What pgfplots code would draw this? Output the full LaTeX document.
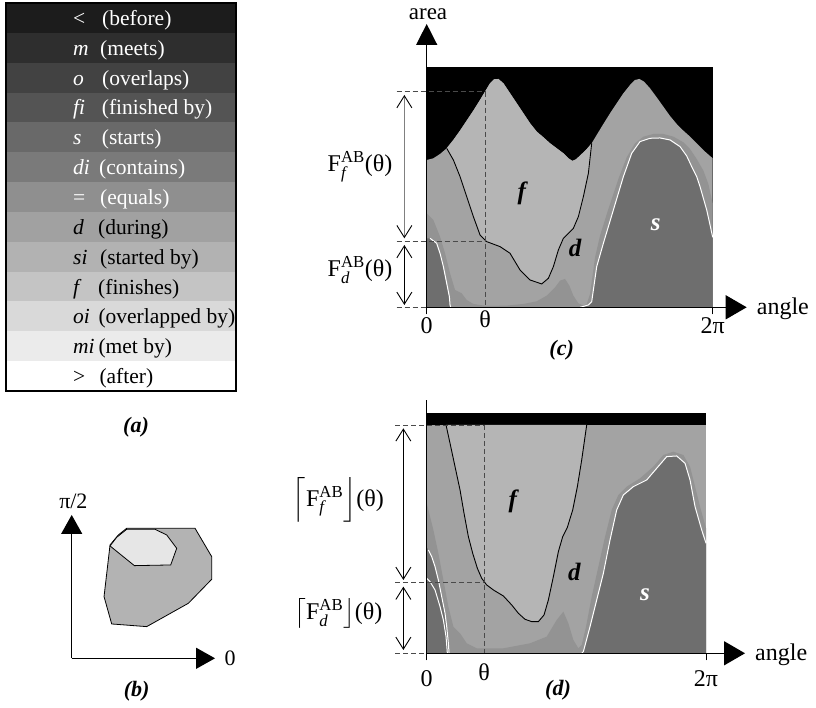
\documentclass[border=0pt]{standalone}
\usepackage{pgfplots}
\pgfplotsset{compat=1.18}
\usepackage{amsmath}
\usepackage{fontspec}
\setmainfont{Liberation Serif}
\usetikzlibrary{arrows.meta}
\definecolor{cS}{HTML}{6E6E6E}
\definecolor{cBand}{HTML}{939393}
\definecolor{cD}{HTML}{A3A3A3}
\definecolor{cF}{HTML}{B5B5B5}
\definecolor{cPolyA}{HTML}{B3B3B3}
\definecolor{cPolyB}{HTML}{E6E6E6}
\definecolor{cDash}{HTML}{4A4A4A}
\newcommand{\fs}[1]{\fontsize{#1}{#1}\selectfont}
% legend row: #1 top y, #2 bottom y, #3 fill, #4 text colour, #5 symbol, #6 desc x, #7 desc
\newcommand{\lrow}[7]{%
  \addplot[fill=#3, draw=none] coordinates {(0,#2)(230,#2)(230,#1)(0,#1)} --cycle;
  \node[anchor=base west, inner sep=0pt, text=#4, font=\fs{21.5}] at (axis cs:67,{(#1+#2)/2-7.5}) {#5};
  \node[anchor=base west, inner sep=0pt, text=#4, font=\fs{21.5}] at (axis cs:#6,{(#1+#2)/2-7.5}) {#7};
}
\tikzset{
  dsh/.style={cDash, line width=0.8pt, dash pattern=on 5pt off 3pt},
  vv/.style={line width=0.9pt, {Straight Barb[length=12pt,width=15pt,color=black]}-{Straight Barb[length=12pt,width=15pt,color=black]}},
  rl/.style={font=\fs{25}\bfseries\itshape},
}
\begin{document}
\begin{tikzpicture}
\useasboundingbox (0,0) rectangle (816pt,708pt);

% ---------------- (a) legend ----------------
\begin{axis}[at={(6pt,317pt)}, anchor=south west, x=1pt, y=1pt,
  xmin=0, xmax=230, ymin=0, ymax=388, xtick=\empty, ytick=\empty,
  axis line style={line width=1.2pt}, axis on top, clip=false]
\lrow{388}{358.15}{black!89}{white}{<}{96}{(before)}
\lrow{358.15}{328.31}{black!82}{white}{\textit{m}}{94}{(meets)}
\lrow{328.31}{298.46}{black!74}{white}{\textit{o}}{96}{(overlaps)}
\lrow{298.46}{268.62}{black!67}{white}{\textit{fi}}{95.7}{(finished by)}
\lrow{268.62}{238.77}{black!59}{white}{\textit{s}}{95.7}{(starts)}
\lrow{238.77}{208.92}{black!52}{white}{\textit{di}}{93}{(contains)}
\lrow{208.92}{179.08}{black!44}{white}{=}{94}{(equals)}
\lrow{179.08}{149.23}{black!37}{black}{\textit{d}}{92}{(during)}
\lrow{149.23}{119.38}{black!30}{black}{\textit{si}}{94}{(started by)}
\lrow{119.38}{89.54}{black!23}{black}{\textit{f}}{92}{(finishes)}
\lrow{89.54}{59.69}{black!15}{black}{\textit{oi}}{92.3}{(overlapped by)}
\lrow{59.69}{29.85}{black!8}{black}{\textit{mi}}{92.3}{(met by)}
\lrow{29.85}{0}{white}{black}{>}{93.3}{(after)}
\node[font=\fs{22}\bfseries\itshape] at (axis cs:130,-36) {(a)};
\end{axis}

% ---------------- (b) ----------------
\begin{axis}[at={(71.7pt,49.7pt)}, anchor=south west, x=0.33333pt, y=0.33333pt,
  xmin=0, xmax=430, ymin=0, ymax=430,
  axis x line*=bottom, axis y line*=left,
  axis line style={line width=1.2pt},
  x axis line style={-{Triangle[length=19pt,width=21pt]}},
  y axis line style={-{Triangle[length=19pt,width=21pt]}},
  xtick=\empty, ytick=\empty, clip=false, axis on top]
\addplot[fill=cPolyA, draw=black, line width=0.8pt] coordinates {(165,390)(370,390)(420,305)(420,237)(350,165)(225,95)(120,103)(97,185)(115,340)(140,370)} --cycle;
\addplot[fill=cPolyB, draw=black, line width=0.8pt] coordinates {(165,387)(250,387)(285,370)(315,330)(297,280)(188,278)(115,337)(135,363)} --cycle;
\node[font=\fs{22}] at (axis cs:5,470) {π/2};
\node[font=\fs{22}] at (axis cs:475,0) {0};
\node[font=\fs{22}\bfseries\itshape] at (axis cs:195,-100) {(b)};
\end{axis}

% ---------------- (c) ----------------
\begin{axis}[at={(426.7pt,400.7pt)}, anchor=south west, x=0.33333pt, y=0.33333pt,
  xmin=0, xmax=960, ymin=0, ymax=850,
  axis x line*=bottom, axis y line*=left,
  axis line style={line width=1.3pt},
  x axis line style={-{Triangle[length=21pt,width=24pt]}},
  y axis line style={-{Triangle[length=21pt,width=21pt]}},
  xtick={0,858}, xticklabels={0,2π},
  extra x ticks={175}, extra x tick labels={θ},
  extra x tick style={major tick length=0pt},
  ytick=\empty, tick align=outside, major tick length=7pt,
  tick style={line width=1pt, black},
  tick label style={font=\fs{24}},
  clip=false, axis on top]
\addplot[fill=black, draw=none] coordinates {(0,0)(0,722)(858,722)(858,0)} --cycle;
\addplot[fill=cD, draw=none] coordinates {(0,0)(0,442)(20,447)(40,460)(60,477)(80,502)(100,530)(120,560)(140,590)(160,622)(175,647)(190,672)(202,684)(215,685)(230,672)(250,642)(270,612)(290,582)(310,552)(330,527)(350,510)(370,492)(390,477)(410,462)(425,447)(437,439)(448,444)(462,457)(478,472)(495,492)(510,517)(530,550)(550,582)(570,612)(590,642)(610,667)(625,682)(638,685)(652,677)(670,657)(690,630)(710,602)(730,574)(750,550)(770,530)(790,512)(810,492)(835,467)(858,447)(858,0)} --cycle;
\addplot[fill=cF, draw=none] coordinates {(60,477)(80,442)(100,392)(120,332)(140,272)(160,217)(180,197)(220,182)(250,162)(280,112)(310,82)(345,70)(365,87)(380,122)(395,172)(410,207)(440,237)(455,272)(470,332)(485,402)(495,492)(478,472)(462,457)(448,444)(437,439)(425,447)(410,462)(390,477)(370,492)(350,510)(330,527)(310,552)(290,582)(270,612)(250,642)(230,672)(215,685)(202,684)(190,672)(175,647)(160,622)(140,590)(120,560)(100,530)(80,502)} --cycle;
\addplot[fill=cBand, draw=none] coordinates {(0,0)(0,282)(20,262)(40,212)(55,162)(70,102)(85,52)(105,42)(120,22)(140,10)(180,4)(240,5)(290,10)(330,18)(360,35)(385,60)(400,80)(415,85)(428,65)(440,35)(455,12)(470,5)(480,10)(490,40)(497,90)(505,150)(520,215)(545,295)(575,385)(600,450)(625,492)(650,512)(680,520)(710,520)(740,512)(770,495)(790,475)(810,445)(830,410)(845,370)(858,310)(858,0)} --cycle;
\addplot[fill=cS, draw=none] coordinates {(0,0)(0,207)(10,207)(30,192)(40,162)(50,122)(60,72)(68,32)(70,7)(72,0)} --cycle;
\addplot[fill=cS, draw=none] coordinates {(460,0)(475,4)(485,7)(495,17)(500,52)(510,122)(530,192)(560,292)(590,392)(615,462)(640,497)(670,507)(700,508)(730,502)(760,482)(780,454)(795,422)(810,392)(820,362)(830,327)(840,292)(850,247)(858,210)(858,0)} --cycle;
\addplot[white, line width=1pt] coordinates {(10,207)(30,192)(40,162)(50,122)(60,72)(68,32)(70,7)(72,0)};
\addplot[white, line width=1pt] coordinates {(460,0)(475,4)(485,7)(495,17)(500,52)(510,122)(530,192)(560,292)(590,392)(615,462)(640,497)(670,507)(700,508)(730,502)(760,482)(780,454)(795,422)(810,392)(820,362)(830,327)(840,292)(850,247)(858,210)};
\addplot[black, line width=0.9pt] coordinates {(60,477)(80,442)(100,392)(120,332)(140,272)(160,217)(180,197)(220,182)(250,162)(280,112)(310,82)(345,70)(365,87)(380,122)(395,172)(410,207)(440,237)(455,272)(470,332)(485,402)(495,492)};
\draw[dsh] (axis cs:-90,647) -- (axis cs:175,647);
\draw[dsh] (axis cs:175,647) -- (axis cs:175,0);
\draw[dsh] (axis cs:-90,197) -- (axis cs:175,197);
\draw[dsh] (axis cs:-90,0) -- (axis cs:0,0);
\draw[vv, draw=gray] (axis cs:-67,637) -- (axis cs:-67,207);
\draw[vv] (axis cs:-67,187) -- (axis cs:-67,7);
\node[font=\fs{24}] at (axis cs:-200,421) {F$^{\text{AB}}_{\text{\itshape f}}$(θ)};
\node[font=\fs{24}] at (axis cs:-200,112) {F$^{\text{AB}}_{\text{\itshape d}}$(θ)};
\node[rl] at (axis cs:285,342) {f};
\node[rl] at (axis cs:445,177) {d};
\node[rl, text=white] at (axis cs:687,247) {s};
\node[font=\fs{24}, anchor=base west, inner sep=0pt] at (axis cs:990,-23) {angle};
\node[font=\fs{23}, anchor=base, inner sep=0pt] at (axis cs:4,862) {area};
\node[font=\fs{22}\bfseries\itshape] at (axis cs:405,-128) {(c)};
\end{axis}

% ---------------- (d) ----------------
\begin{axis}[at={(426.7pt,54.7pt)}, anchor=south west, x=0.33333pt, y=0.33333pt,
  xmin=0, xmax=955, ymin=0, ymax=760,
  axis x line*=bottom, axis y line*=left,
  axis line style={line width=1.3pt},
  x axis line style={-{Triangle[length=21pt,width=24pt]}},
  xtick={0,838}, xticklabels={0,2π},
  extra x ticks={172}, extra x tick labels={θ},
  extra x tick style={major tick length=0pt},
  ytick=\empty, tick align=outside, major tick length=7pt,
  tick style={line width=1pt, black},
  tick label style={font=\fs{24}},
  xticklabel style={yshift=-7pt},
  clip=false, axis on top]
\addplot[fill=cD, draw=none] coordinates {(0,0)(0,685)(838,685)(838,0)} --cycle;
\addplot[fill=black, draw=none] coordinates {(0,685)(0,720)(838,720)(838,685)} --cycle;
\addplot[fill=cF, draw=none] coordinates {(58,685)(70,630)(85,560)(100,490)(112,420)(125,350)(138,300)(152,255)(165,225)(180,205)(200,190)(230,172)(255,145)(275,120)(295,102)(315,95)(335,95)(352,115)(365,160)(380,230)(395,305)(408,350)(422,378)(438,430)(452,500)(465,580)(475,650)(480,685)} --cycle;
\addplot[fill=cBand, draw=none] coordinates {(0,0)(0,450)(20,370)(35,300)(50,220)(65,140)(80,80)(100,60)(120,30)(150,15)(230,15)(310,30)(360,50)(390,100)(410,125)(425,90)(440,40)(455,15)(465,25)(478,80)(495,170)(515,260)(535,350)(555,430)(575,475)(600,500)(640,525)(680,560)(710,595)(740,605)(770,595)(790,560)(805,500)(820,440)(838,375)(838,0)} --cycle;
\addplot[fill=cS, draw=none] coordinates {(0,0)(0,318)(5,310)(15,290)(25,260)(35,220)(45,170)(55,120)(60,80)(65,30)(67,0)} --cycle;
\addplot[fill=cS, draw=none] coordinates {(465,0)(470,5)(490,80)(510,160)(530,240)(550,340)(570,430)(590,475)(620,500)(660,520)(690,555)(720,590)(750,592)(775,570)(790,520)(805,440)(825,370)(838,330)(838,0)} --cycle;
\addplot[white, line width=1pt] coordinates {(5,310)(15,290)(25,260)(35,220)(45,170)(55,120)(60,80)(65,30)(67,0)};
\addplot[white, line width=1pt] coordinates {(0,225)(10,215)(25,190)(40,140)(50,100)(58,50)(62,0)};
\addplot[white, line width=1pt] coordinates {(465,0)(470,5)(490,80)(510,160)(530,240)(550,340)(570,430)(590,475)(620,500)(660,520)(690,555)(720,590)(750,592)(775,570)(790,520)(805,440)(825,370)(838,330)};
\addplot[black, line width=0.9pt] coordinates {(58,685)(70,630)(85,560)(100,490)(112,420)(125,350)(138,300)(152,255)(165,225)(180,205)(200,190)(230,172)(255,145)(275,120)(295,102)(315,95)(335,95)(352,115)(365,160)(380,230)(395,305)(408,350)(422,378)(438,430)(452,500)(465,580)(475,650)(480,685)};
\draw[dsh] (axis cs:-95,685) -- (axis cs:172,685);
\draw[dsh] (axis cs:172,685) -- (axis cs:172,0);
\draw[dsh] (axis cs:-95,212) -- (axis cs:172,212);
\draw[dsh] (axis cs:-95,0) -- (axis cs:0,0);
\draw[vv] (axis cs:-70,675) -- (axis cs:-70,220);
\draw[vv] (axis cs:-70,200) -- (axis cs:-70,10);
\node[font=\fs{24}] at (axis cs:-265,460) {$\left\lceil\text{F}^{\text{AB}}_{\text{\itshape f}}\right\rfloor$(θ)};
\node[font=\fs{24}] at (axis cs:-265,120) {$\left\lceil\text{F}^{\text{AB}}_{\text{\itshape d}}\right\rfloor$(θ)};
\node[rl] at (axis cs:258,455) {f};
\node[rl] at (axis cs:443,245) {d};
\node[rl, text=white] at (axis cs:655,175) {s};
\node[font=\fs{24}, anchor=base west, inner sep=0pt] at (axis cs:985,-22) {angle};
\node[font=\fs{22}\bfseries\itshape] at (axis cs:394,-110) {(d)};
\end{axis}
\end{tikzpicture}
\end{document}
